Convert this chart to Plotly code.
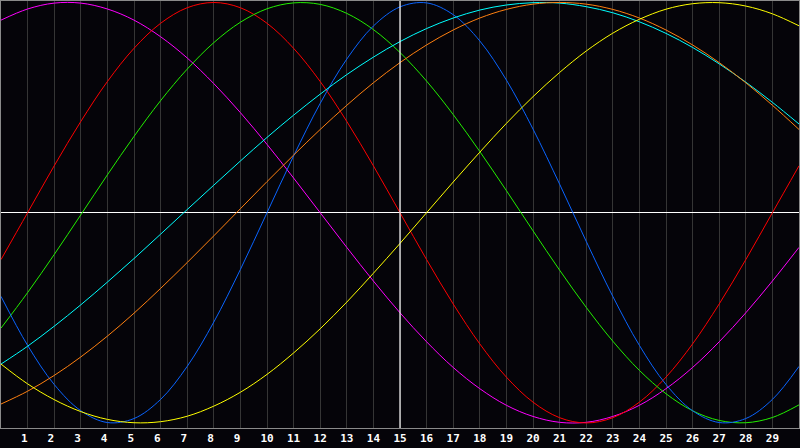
import plotly.graph_objects as go

days = list(range(0, 31))
tick_days = list(range(1, 30))
tick_labels = [str(d) for d in tick_days]
cursor_day = 15

magenta = [0.916, 0.969, 0.997, 0.997, 0.969, 0.916, 0.837, 0.736, 0.614, 0.476, 0.325,
           0.165, 0.0, -0.165, -0.325, -0.476, -0.614, -0.736, -0.837, -0.916, -0.969,
           -0.997, -0.997, -0.969, -0.916, -0.837, -0.736, -0.614, -0.476, -0.325, -0.165]
red = [-0.223, 0.0, 0.223, 0.434, 0.624, 0.782, 0.901, 0.975, 1.0, 0.975, 0.901,
       0.782, 0.624, 0.434, 0.223, 0.0, -0.223, -0.434, -0.624, -0.782, -0.901,
       -0.975, -1.0, -0.975, -0.901, -0.782, -0.624, -0.434, -0.223, 0.0, 0.223]
green = [-0.549, -0.380, -0.199, -0.010, 0.180, 0.363, 0.533, 0.683, 0.809, 0.906, 0.970,
         0.998, 0.991, 0.948, 0.871, 0.762, 0.626, 0.467, 0.291, 0.105, -0.086,
         -0.273, -0.450, -0.611, -0.750, -0.861, -0.942, -0.988, -0.999, -0.974, -0.914]
blue = [-0.398, -0.631, -0.817, -0.942, -0.998, -0.979, -0.888, -0.731, -0.520, -0.270, 0.0,
        0.270, 0.520, 0.731, 0.888, 0.979, 0.998, 0.942, 0.817, 0.631, 0.398,
        0.136, -0.136, -0.398, -0.631, -0.817, -0.942, -0.998, -0.979, -0.888, -0.731]
cyan = [-0.720, -0.635, -0.540, -0.438, -0.330, -0.218, -0.102, 0.015, 0.131, 0.246, 0.358,
        0.464, 0.564, 0.657, 0.740, 0.814, 0.876, 0.926, 0.964, 0.988, 0.999,
        0.997, 0.980, 0.951, 0.908, 0.853, 0.786, 0.708, 0.621, 0.525, 0.422]
orange = [-0.910, -0.849, -0.774, -0.686, -0.587, -0.478, -0.360, -0.237, -0.110, 0.019, 0.148,
          0.274, 0.396, 0.511, 0.618, 0.714, 0.798, 0.869, 0.926, 0.967, 0.992,
          1.0, 0.992, 0.967, 0.926, 0.869, 0.798, 0.714, 0.618, 0.511, 0.396]
yellow = [-0.720, -0.814, -0.889, -0.946, -0.983, -0.999, -0.994, -0.968, -0.920, -0.854, -0.769,
          -0.667, -0.552, -0.425, -0.288, -0.146, 0.0, 0.146, 0.288, 0.425, 0.552,
          0.667, 0.769, 0.854, 0.920, 0.968, 0.994, 0.999, 0.983, 0.946, 0.889]

series = [
    ("magenta", magenta, "#ff00ff"),
    ("red", red, "#ff0000"),
    ("green", green, "#22ee00"),
    ("blue", blue, "#0a64ff"),
    ("cyan", cyan, "#00ffff"),
    ("orange", orange, "#ff8010"),
    ("yellow", yellow, "#ffff00"),
]

fig = go.Figure()
for name, vals, col in series:
    fig.add_trace(go.Scatter(x=days, y=vals, mode="lines", name=name,
                             line=dict(color=col, width=1, shape="spline"),
                             hoverinfo="skip"))

fig.add_shape(type="line", xref="x", yref="paper", x0=cursor_day, x1=cursor_day,
              y0=0, y1=1, line=dict(color="#ffffff", width=1.2))

ticktext = [t + "\u00a0" if len(t) == 1 else t for t in tick_labels]

fig.update_layout(
    width=800, height=448,
    margin=dict(l=1, r=1, t=1, b=20),
    paper_bgcolor="#050409",
    plot_bgcolor="#050409",
    showlegend=False,
    xaxis=dict(range=[0, 30], tickvals=tick_days, ticktext=ticktext,
               showgrid=True, gridcolor="#353535", gridwidth=1,
               zeroline=False, showline=True, mirror=True, linecolor="#8a8a8a", linewidth=1,
               ticks="", tickfont=dict(family="DejaVu Sans Mono", size=11, color="#ffffff", weight="bold"),
               fixedrange=True),
    yaxis=dict(range=[-1.024, 1.007], showgrid=False, showticklabels=False,
               zeroline=True, zerolinecolor="#ffffff", zerolinewidth=1.2,
               showline=True, mirror=True, linecolor="#8a8a8a", linewidth=1,
               ticks="", fixedrange=True),
)

fig.write_html(
    "out.html",
    config={"displayModeBar": False, "staticPlot": True},
    post_script="document.body.style.margin='0';document.body.style.padding='0';"
                "document.body.style.overflow='hidden';"
                "document.body.style.background='#050409';",
)
